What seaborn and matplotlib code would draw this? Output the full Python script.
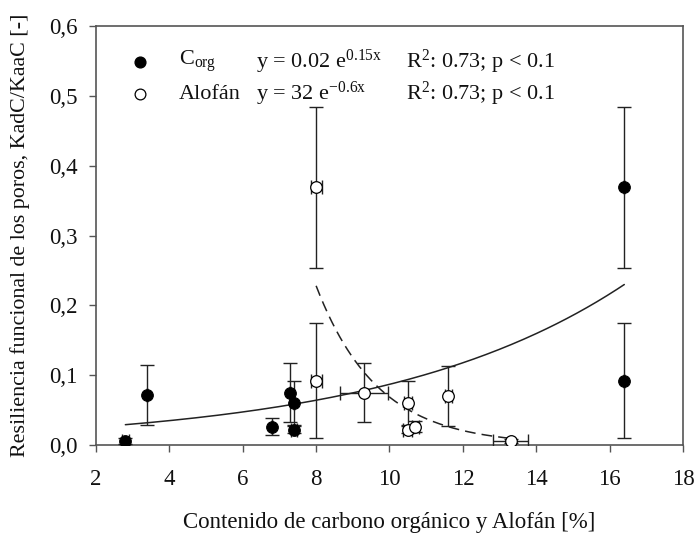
import numpy as np
import pandas as pd
import matplotlib
matplotlib.use("Agg")
import matplotlib.pyplot as plt
import seaborn as sns
from matplotlib.ticker import FuncFormatter

# ---- data ----
corg_x = [2.8, 3.4, 6.8, 7.3, 7.4, 7.4, 16.4, 16.4]
corg_y = [0.006, 0.072, 0.026, 0.075, 0.060, 0.022, 0.369, 0.092]
corg_yerr = [0.004, 0.043, 0.012, 0.042, 0.032, 0.005, 0.115, 0.082]
corg_xerr = [0.10, 0.0, 0.0, 0.0, 0.0, 0.08, 0.0, 0.0]

alo_x = [8.0, 8.0, 9.3, 10.5, 10.5, 10.7, 11.6, 13.3]
alo_y = [0.369, 0.092, 0.075, 0.060, 0.022, 0.026, 0.070, 0.006]
alo_yerr = [0.115, 0.082, 0.042, 0.032, 0.005, 0.008, 0.043, 0.003]
alo_xerr = [0.15, 0.15, 0.65, 0.10, 0.12, 0.10, 0.10, 0.47]

# fitted curves (exponential fits drawn in the chart)
corg_fit_a, corg_fit_b, corg_fit_range = 0.019, 0.152, (2.8, 16.4)
alo_fit_a, alo_fit_b, alo_fit_range = 27.7, -0.6, (8.0, 13.3)

x_ticks = [2, 4, 6, 8, 10, 12, 14, 16, 18]
y_ticks = [0.0, 0.1, 0.2, 0.3, 0.4, 0.5, 0.6]

legend_rows = [
    ("C$_{\\mathrm{org}}$", "y = 0.02 e$^{\\mathrm{0.15x}}$", "R$^{\\mathrm{2}}$: 0.73; p < 0.1"),
    ("Alofán", "y = 32 e$^{\\mathrm{-0.6x}}$", "R$^{\\mathrm{2}}$: 0.73; p < 0.1"),
]

xlabel = "Contenido de carbono orgánico y Alofán [%]"
ylabel = "Resiliencia funcional de los poros, KadC/KaaC [-]"

# ---- style ----
sns.set_theme(style="ticks")
plt.rcParams["font.family"] = ["Liberation Serif", "DejaVu Serif"]
plt.rcParams["mathtext.fontset"] = "custom"
plt.rcParams["mathtext.rm"] = "Liberation Serif"
plt.rcParams["mathtext.it"] = "Liberation Serif:italic"
plt.rcParams["mathtext.bf"] = "Liberation Serif:bold"

fig = plt.figure(figsize=(6.96, 5.33), dpi=100)
ax = fig.add_axes([96 / 696, 1 - 445 / 533, (683 - 96) / 696, (445 - 26) / 533])

line_col = "#222222"
spine_col = "#555555"

# fitted curves
xc = np.linspace(*corg_fit_range, 200)
df_c = pd.DataFrame({"x": xc, "y": corg_fit_a * np.exp(corg_fit_b * xc)})
sns.lineplot(data=df_c, x="x", y="y", ax=ax, color=line_col, lw=1.1, zorder=2)
xa = np.linspace(*alo_fit_range, 200)
df_a = pd.DataFrame({"x": xa, "y": alo_fit_a * np.exp(alo_fit_b * xa)})
sns.lineplot(data=df_a, x="x", y="y", ax=ax, color=line_col, lw=1.1,
             linestyle=(0, (7, 4)), zorder=2)

# error bars
ax.errorbar(corg_x, corg_y, yerr=corg_yerr, xerr=corg_xerr, fmt="none",
            ecolor=line_col, elinewidth=1.0, capsize=4.8, capthick=1.0, zorder=3)
ax.errorbar(alo_x, alo_y, yerr=alo_yerr, xerr=alo_xerr, fmt="none",
            ecolor=line_col, elinewidth=1.0, capsize=4.8, capthick=1.0, zorder=3)

# markers
df_corg = pd.DataFrame({"x": corg_x, "y": corg_y})
df_alo = pd.DataFrame({"x": alo_x, "y": alo_y})
sns.scatterplot(data=df_corg, x="x", y="y", ax=ax, s=70, color="black",
                edgecolor="black", linewidth=0.8, zorder=4)
sns.scatterplot(data=df_alo, x="x", y="y", ax=ax, s=70, color="white",
                edgecolor="black", linewidth=0.9, zorder=5)

# legend drawn as text rows
ax.scatter([0.075], [0.915], s=60, color="black", transform=ax.transAxes, zorder=6, clip_on=False)
ax.scatter([0.075], [0.837], s=60, facecolor="white", edgecolor="black", linewidth=0.9,
           transform=ax.transAxes, zorder=6, clip_on=False)
for row, yy in zip(legend_rows, [0.915, 0.837]):
    for txt, xx in zip(row, [0.1415, 0.273, 0.528]):
        ax.text(xx, yy, txt, transform=ax.transAxes, fontsize=16, va="center", ha="left",
                color="#111111")

ax.set_xlim(2, 18)
ax.set_ylim(0, 0.6)
ax.set_xticks(x_ticks)
ax.set_yticks(y_ticks)
ax.yaxis.set_major_formatter(FuncFormatter(lambda v, p: f"{v:.1f}".replace(".", ",")))
ax.set_xlabel(xlabel, fontsize=16.5, labelpad=16, color="#111111")
ax.set_ylabel(ylabel, fontsize=15.8, labelpad=14, color="#111111")
ax.tick_params(direction="out", length=5, width=1.0, colors=spine_col, labelsize=16.5,
               labelcolor="#111111")
ax.tick_params(axis="x", pad=12)
ax.tick_params(axis="y", pad=8)
for s in ax.spines.values():
    s.set_visible(True)
    s.set_color(spine_col)
    s.set_linewidth(1.2)

fig.savefig("out.png", dpi=100, facecolor="white")
